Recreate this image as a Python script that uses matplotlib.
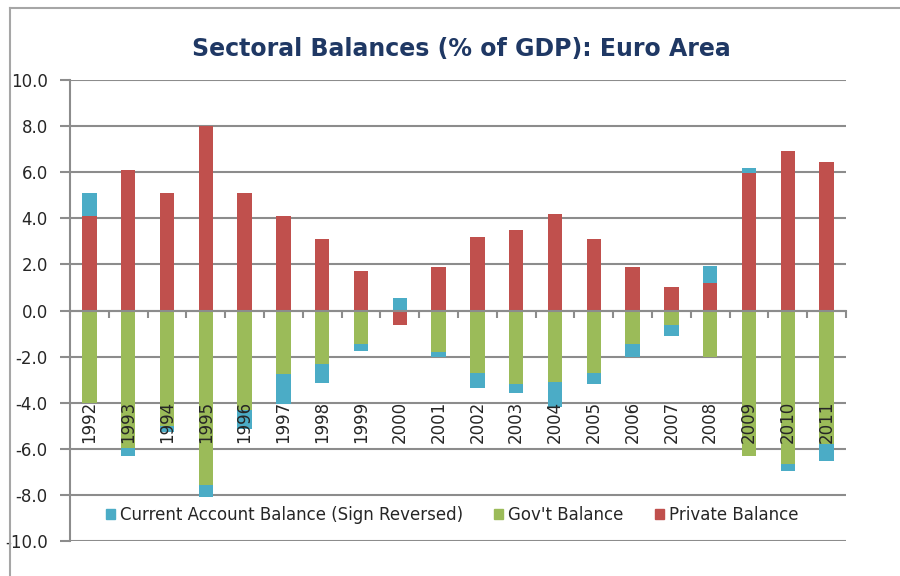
import matplotlib.pyplot as plt
from matplotlib.patches import Patch
from matplotlib.lines import Line2D
import numpy as np

years = [str(y) for y in range(1992, 2012)]
private = [4.1, 6.1, 5.1, 8.0, 5.1, 4.1, 3.1, 1.7, -0.65, 1.9,
           3.2, 3.5, 4.2, 3.1, 1.9, 1.0, 1.2, 5.95, 6.9, 6.45]
gov = [-4.0, -5.95, -5.0, -7.55, -4.3, -2.75, -2.3, -1.45, 0.0, -1.8,
       -2.7, -3.2, -3.1, -2.7, -1.45, -0.65, -2.0, -6.3, -6.65, -5.8]
ca = [1.0, -0.35, -0.25, -0.55, -0.85, -1.3, -0.85, -0.3, 0.55, -0.2,
      -0.65, -0.4, -1.1, -0.5, -0.55, -0.45, 0.75, 0.25, -0.3, -0.75]

labels = ["Current Account Balance (Sign Reversed)", "Gov't Balance", "Private Balance"]
c_ca, c_gov, c_priv = '#4BACC6', '#9BBB59', '#C0504D'

font = ['Liberation Sans Narrow', 'DejaVu Sans']
plt.rcParams['font.family'] = font
grid_c = '#8C8C8C'
text_c = '#262626'

fig = plt.figure(figsize=(9, 5.76), dpi=100)
ax = fig.add_axes([70/900, 1-541/576, (846-70)/900, (541-80)/576])

x = np.arange(len(years))
pos = np.zeros(len(years))
neg = np.zeros(len(years))
for vals, col in [(private, c_priv), (gov, c_gov), (ca, c_ca)]:
    v = np.array(vals)
    bottom = np.where(v >= 0, pos, neg)
    ax.bar(x, v, 0.37, bottom=bottom, color=col, edgecolor='none', zorder=3)
    pos += np.where(v >= 0, v, 0)
    neg += np.where(v < 0, v, 0)

ax.set_xlim(-0.5, len(years) - 0.5)
ax.set_ylim(-10, 10)
ax.set_yticks(np.arange(-10, 10.1, 2))
ax.set_yticklabels([f'{t:.1f}' for t in np.arange(-10, 10.1, 2)], color=text_c, fontsize=12)
ax.yaxis.grid(True, color=grid_c, lw=1.5, zorder=1)
ax.tick_params(axis='y', length=7, width=1.5, color=grid_c, pad=9)

for s in ['top', 'right']:
    ax.spines[s].set_visible(False)
ax.spines['left'].set_color(grid_c)
ax.spines['left'].set_linewidth(1.5)
ax.spines['bottom'].set_position(('data', 0))
ax.spines['bottom'].set_color(grid_c)
ax.spines['bottom'].set_linewidth(1.5)
ax.spines['bottom'].set_zorder(4)
ax.set_xticks(np.arange(-0.5, len(years), 1))
ax.set_xticklabels([])
ax.tick_params(axis='x', length=5, width=1.5, color=grid_c, direction='out')

for xi, yr in zip(x, years):
    ax.text(xi, -3.9, yr, rotation=90, ha='center', va='top', fontsize=12,
            color=text_c, zorder=5)

handles = [Patch(color=c_ca), Patch(color=c_gov), Patch(color=c_priv)]
ax.legend(handles, labels, ncol=3, loc='center', bbox_to_anchor=(0.4925, 0.056),
          frameon=False, fontsize=12, handlelength=0.55, handleheight=0.55,
          handletextpad=0.3, columnspacing=1.85, labelcolor=text_c)

fig.suptitle('Sectoral Balances (% of GDP): Euro Area', x=0.513, y=0.935,
             fontsize=17, fontweight='bold', color='#1F3864')

fig.add_artist(Line2D([10/900, 10/900], [0, 1-8/576], transform=fig.transFigure,
                      color='#A6A6A6', lw=1.5))
fig.add_artist(Line2D([10/900, 1], [1-8/576, 1-8/576], transform=fig.transFigure,
                      color='#A6A6A6', lw=1.5))

fig.savefig('out.png', dpi=100)
